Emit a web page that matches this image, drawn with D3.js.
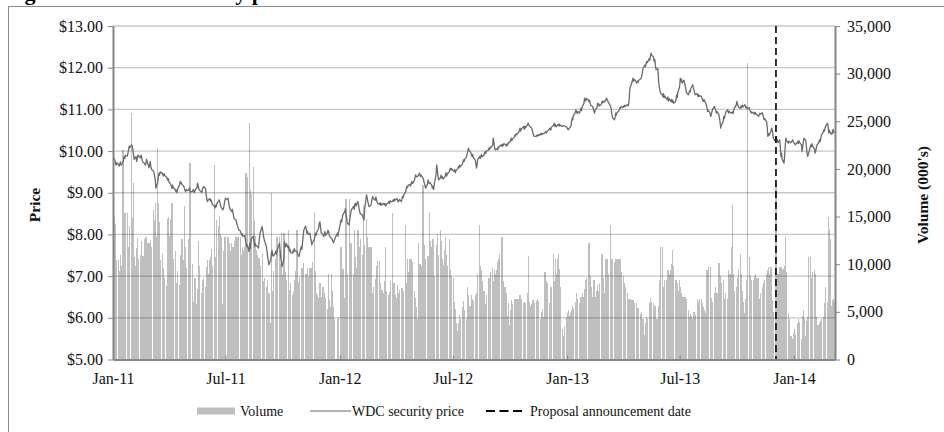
<!DOCTYPE html>
<html><head><meta charset="utf-8">
<script src="https://cdn.jsdelivr.net/npm/d3@7"></script>
<style>
html,body{margin:0;padding:0;background:#fff;}
svg{display:block;font-family:"Liberation Serif","Times New Roman",serif;}
</style></head><body>
<svg id="chart" width="944" height="432"></svg>
<script>
// ---------------- DATA ----------------
const priceTicks = [5, 6, 7, 8, 9, 10, 11, 12, 13];
const volumeTicks = [0, 5000, 10000, 15000, 20000, 25000, 30000, 35000];
const xTickDates = ["2011-01-01", "2011-07-01", "2012-01-01", "2012-07-01", "2013-01-01", "2013-07-01", "2014-01-01"];
const xTickLabels = ["Jan-11", "Jul-11", "Jan-12", "Jul-12", "Jan-13", "Jul-13", "Jan-14"];
const announcementDate = "2013-12-03";
const legendLabels = ["Volume", "WDC security price", "Proposal announcement date"];
const titleText = "Figure 4.1: WDC security price and volume";

// Each row = one trading week, Monday..Friday (null = market holiday)
const weekStart2011 = "2011-01-03";
const price2011 = [
[9.83,9.78,9.70,9.66,9.72],[9.68,9.64,9.70,9.74,9.66],[9.72,9.80,9.87,9.82,9.90],[9.88,9.95,10.02,10.12,10.08],
[10.15,10.12,10.05,9.92,9.80],[9.87,9.75,9.82,9.90,9.88],[9.84,9.90,9.86,9.78,9.74],[9.70,9.66,9.72,9.80,9.75],
[9.60,9.68,9.75,9.62,9.56],[9.52,9.48,9.40,9.32,9.11],[9.25,9.38,9.47,9.42,9.50],[9.47,9.44,9.40,9.46,9.42],
[9.38,9.35,9.30,9.34,9.26],[9.20,9.15,9.10,9.18,9.12],[9.08,9.03,9.06,9.00,9.10],[9.18,9.27,9.22,9.24,9.20],
[9.15,9.10,9.05,9.03,9.08],[9.05,9.07,9.12,9.04,9.02],[9.03,9.08,9.05,9.00,9.06],[9.12,9.23,9.18,9.10,9.06],
[9.03,9.00,9.08,9.12,9.15],[9.10,8.95,8.85,8.79,8.82],[8.86,8.80,8.83,8.76,8.72],[8.68,8.63,8.70,8.66,8.74],
[8.80,8.83,8.78,8.70,8.65],[8.59,8.64,8.72,8.80,8.87],[8.84,8.87,8.78,8.70,8.62],[8.55,8.60,8.52,8.45,8.38],
[8.35,8.28,8.22,8.19,8.12],[8.08,8.03,7.98,8.02,7.95],[7.97,7.88,7.80,7.71,7.75],[7.59,7.78,7.66,7.85,7.91],
[7.95,7.84,7.71,7.78,7.74],[7.70,7.67,7.82,7.95,8.05],[8.19,8.10,7.98,7.90,7.84],[7.70,7.58,7.45,7.36,7.27],
[7.40,7.55,7.62,7.50,7.48],[7.55,7.60,7.52,7.58,7.66],[7.79,7.62,7.45,7.32,7.23],[7.40,7.83,7.75,7.70,7.78],
[7.67,7.72,7.60,7.64,7.56],[7.55,7.62,7.58,7.66,7.60],[7.60,7.54,7.50,7.47,7.52],[7.71,7.64,7.80,7.95,8.10],
[8.20,8.12,8.03,8.08,8.00],[8.03,7.92,7.85,7.75,7.80],[7.88,7.95,8.03,7.98,8.06],[8.15,8.27,8.30,8.18,8.05],
[7.99,7.95,8.02,8.07,7.98],[8.04,8.10,8.06,7.99,7.95],[7.90,7.87,7.82,7.80,7.86],[null,null,8.03,7.96,8.05]
];
const volume2011 = [
[15000,14200,11400,10400,9300],[10400,9300,8600,11000,9800],[22000,12000,10500,15400,11200],[15400,11800,10200,12500,14000],
[25900,14800,12000,18500,10800],[9800,11700,12800,9000,10500],[11000,8800,12400,9600,10900],[12600,9700,12900,11800,12200],
[12200,11900,12500,11800,11000],[15700,14600,12500,16400,12900],[22200,16400,14400,11300,10400],[11100,10000,9600,8600,7600],
[7700,8600,14700,15000,13000],[14700,15000,16400,11200,10500],[11400,7000,6700,8000,9300],[7800,10000,11000,10300,12600],
[10400,16100,11800,10300,9600],[11400,12600,10200,20600,11000],[10000,6000,5800,6500,8600],[5800,7400,8600,12400,9800],
[5500,7000,8300,7600,8600],[7600,8300,9700,10400,9000],[10400,10800,11600,11000,9800],[20400,10800,10400,10400,14600],
[14000,15100,13200,12000,12900],[5800,11400,12900,12900,12500],[12900,12900,11800,12200,11400],[12200,11400,11800,11600,12400],
[12900,12600,12400,12900,12600],[12900,6500,11000,11800,11400],[11800,10800,19600,18800,19200],[24800,19000,17800,17400,16500],
[20200,14500,12600,13000,11500],[11000,8600,10600,5900,9800],[11100,9200,8200,7600,8600],[7600,6800,8300,5900,7000],
[3800,17500,4200,7200,9300],[10500,9000,11400,12900,9600],[12900,10000,8600,13300,9000],[13300,10000,9200,7600,8300],
[13600,6500,7300,7000,8000],[6800,7100,6700,8300,9300],[13600,9100,8100,7600,8700],[8900,9600,8700,10100,9000],
[9000,8600,9000,9600,8700],[9600,9000,8800,9600,10200],[15400,9300,6500,7000,6800],[6500,7600,8000,7000,6600],
[7600,6500,7000,5900,6500],[4600,5300,9000,6200,5500],[9000,7200,5500,4700,4300],[null,null,4000,4200,4500]
];

const weekStart2012 = "2012-01-02";
const price2012 = [
[null,8.35,8.30,8.40,8.47],[8.55,8.62,8.48,8.40,8.27],[8.23,8.35,8.45,8.55,8.60],[8.67,8.60,8.70,8.75,8.68],
[8.79,8.72,8.62,8.55,8.50],[8.47,8.43,8.38,8.35,8.60],[8.95,8.88,8.80,8.72,8.67],[8.70,8.78,8.85,8.91,8.86],
[8.82,8.90,8.84,8.78,8.75],[8.72,8.76,8.70,8.74,8.71],[8.75,8.71,8.74,8.68,8.72],[8.76,8.79,8.74,8.81,8.78],
[8.80,8.83,8.79,8.85,8.82],[8.86,8.82,8.78,8.80,8.84],[8.79,8.84,8.91,8.88,8.95],[9.02,9.10,9.15,9.12,9.18],
[9.20,9.16,9.23,9.27,9.22],[9.30,9.36,9.43,9.40,9.38],[9.42,9.47,9.44,9.39,9.42],[9.35,9.30,9.23,9.18,9.11],
[9.20,9.31,9.26,9.22,9.25],[9.18,9.11,9.15,9.08,9.20],[9.45,9.67,9.55,9.40,9.31],[9.36,9.42,9.35,9.38,9.33],
[9.38,9.43,9.48,9.40,9.45],[9.50,9.55,9.59,9.54,9.58],[9.52,9.51,9.56,9.48,9.53],[9.58,9.63,9.60,9.66,9.62],
[9.68,9.72,9.79,9.75,9.80],[9.86,9.93,10.00,10.07,10.02],[9.96,9.90,9.87,9.92,9.84],[9.78,9.70,9.59,9.68,9.80],
[9.87,9.82,9.88,9.92,9.86],[9.90,9.96,9.99,9.94,10.00],[10.02,10.07,10.04,10.10,10.08],[10.14,10.31,10.22,10.10,10.03],
[10.06,10.03,10.10,10.08,10.12],[10.15,10.10,10.16,10.13,10.18],[10.15,10.12,10.17,10.14,10.19],[10.22,10.27,10.31,10.25,10.29],
[10.34,10.39,10.36,10.42,10.40],[10.45,10.50,10.55,10.48,10.53],[10.57,10.59,10.52,10.60,10.56],[10.62,10.67,10.64,10.60,10.59],
[10.55,10.48,10.42,10.38,10.35],[10.35,10.38,10.36,10.40,10.37],[10.40,10.43,10.39,10.42,10.41],[10.44,10.47,10.43,10.46,10.48],
[10.52,10.55,10.50,10.53,10.58],[10.62,10.67,10.60,10.64,10.58],[10.63,10.61,10.65,10.60,10.62],[10.59,10.61,null,null,10.60]
];
const volume2012 = [
[null,11800,6500,8800,9500],[6500,8000,16800,10300,9000],[16800,9800,11000,12200,9000],[9000,11200,13600,10800,9600],
[13600,11500,10800,11800,12600],[10400,11000,16200,12000,10500],[14700,12900,11200,10300,11800],[11800,8500,6200,7000,7600],
[6200,8500,9800,7800,10300],[10300,8000,7800,6800,7300],[7000,8200,11800,6800,7200],[6400,6800,7100,8200,6800],
[15400,7500,8000,7200,6800],[6500,7800,6800,7000,7300],[7000,7500,6500,6800,7200],[14100,8000,7200,10500,9200],
[10500,9800,10500,8800,10200],[7200,6500,4000,5500,4200],[12200,9500,10000,8800,9800],[18300,16800,12000,10500,9000],
[5200,10900,9800,15400,12400],[11800,10000,12600,5200,8800],[10000,12000,13200,11000,9500],[13600,12400,11000,10500,9900],
[11500,12900,11000,10200,9800],[12600,11000,9400,8800,7800],[8600,6000,4000,5300,3800],[3000,3800,4500,4700,4200],
[4700,5500,6100,5200,4800],[4200,5500,7600,6800,5600],[5600,6800,5800,6400,6100],[6100,6800,7000,8000,9000],
[14100,9800,8600,9400,8200],[7200,6500,5800,4200,6800],[8000,8600,7600,8200,9200],[9600,8200,7600,9400,9000],
[9400,10200,10500,9800,11100],[12000,12900,10000,8200,7600],[7600,7000,4600,3800,5900],[3600,5200,6200,5600,5800],
[6100,6400,5800,6000,6400],[6400,6000,6800,6200,6400],[5900,5500,6000,5200,5900],[7000,10900,7000,6000,5600],
[5800,5900,6200,5500,5900],[6100,6000,6400,6100,5800],[4200,5000,4800,5300,4500],[9200,7000,8200,7500,8000],
[4200,5900,6800,7600,7000],[11100,7000,8200,10500,9000],[10500,11100,9500,8800,7600],[3200,2500,null,null,3500]
];

const weekStart2013 = "2012-12-31";
const price2013 = [
[10.58,null,10.52,10.51,10.54],[10.60,10.72,10.79,10.75,10.85],[10.92,10.99,10.94,10.90,10.95],[10.91,10.98,11.03,10.97,11.05],
[11.15,11.27,11.24,11.20,11.26],[11.23,11.18,11.22,11.15,11.10],[11.07,11.02,10.95,10.91,10.98],[11.05,11.15,11.10,11.13,11.08],
[11.12,11.19,11.16,11.20,11.17],[11.22,11.27,11.24,11.21,11.18],[11.10,11.07,10.98,10.88,10.80],[10.75,10.80,10.91,10.86,10.92],
[10.96,11.00,11.04,11.02,11.07],[11.05,11.07,11.10,11.06,11.09],[11.11,11.08,11.13,11.30,11.52],[11.63,11.70,11.75,11.68,11.72],
[11.66,11.63,11.68,11.65,11.70],[11.73,11.75,11.80,11.90,11.98],[12.06,12.02,12.10,12.15,12.12],[12.22,12.18,12.28,12.35,12.30],
[12.25,12.15,12.20,12.05,11.95],[11.98,11.70,11.55,11.48,11.40],[11.35,11.30,11.38,11.28,11.32],[11.25,11.23,11.30,11.20,11.26],
[11.19,11.24,11.17,11.22,11.15],[11.18,11.22,11.35,11.28,11.40],[11.55,11.75,11.68,11.72,11.63],[11.70,11.63,11.55,11.48,11.40],
[11.35,11.39,11.45,11.42,11.50],[11.59,11.52,11.46,11.40,11.35],[11.38,11.32,11.36,11.30,11.33],[11.31,11.27,11.22,11.19,11.24],
[11.15,11.10,11.02,10.95,10.98],[10.90,10.83,10.88,10.95,11.00],[11.07,11.02,10.98,10.91,10.95],[10.88,10.80,10.70,10.55,10.62],
[10.70,10.83,10.78,10.86,10.92],[10.99,10.95,10.91,10.96,10.93],[10.91,10.94,10.90,10.98,11.03],[11.10,11.19,11.14,11.08,11.05],
[11.03,11.08,11.04,11.10,11.06],[11.11,11.07,11.03,11.06,11.02],[11.04,10.98,10.95,10.91,10.94],[10.90,10.93,10.88,10.92,10.89],
[10.85,10.83,10.87,10.91,10.88],[10.92,10.88,10.80,10.75,10.78],[10.70,10.55,10.35,10.42,10.38],[10.48,10.55,10.50,10.40,10.30],
[10.23,10.35,10.30,10.27,10.20],[10.27,10.10,9.87,9.95,9.80],[9.71,9.90,10.15,10.31,10.25],[10.19,10.24,null,null,10.20]
];
const volume2013 = [
[4500,null,4900,5200,4600],[4900,5200,5600,5000,5400],[5200,6000,7000,6400,5900],[5900,6400,6600,6200,7000],
[6600,7400,8300,7800,8600],[8300,12200,9500,8800,7600],[6600,8000,8300,7400,6600],[7200,7800,6600,7200,8000],
[8800,11100,9000,8600,7000],[10500,9800,10500,9400,9000],[9400,14100,9600,10500,9400],[9400,10200,10500,9800,10500],
[10500,10000,10500,9800,9200],[8300,8800,8000,7600,7000],[7000,6400,6000,6400,6300],[6200,6000,5800,6200,5900],
[5600,5900,5200,5400,5200],[4800,4500,5000,3800,4200],[2600,3800,4200,4500,4200],[4800,5900,6500,5900,6000],
[5900,5200,5600,4500,4200],[4200,5600,6500,8300,11800],[11800,6600,7600,8300,8000],[8300,9000,9400,8600,9000],
[9400,10000,11500,9800,9000],[7600,8300,7800,8000,7200],[8300,7600,7000,6400,6600],[6600,6200,6600,6400,6000],
[5200,4500,4200,4800,4600],[4200,4800,5000,4500,4700],[5900,6400,5200,6000,6400],[6400,5900,4900,5500,5200],
[4900,7600,9400,8000,9700],[9700,8000,6500,4900,6000],[7000,7600,7000,6500,7000],[10100,9000,8800,8300,8000],
[8300,7600,5600,6400,7000],[6400,7600,9400,8600,9000],[11800,16200,9000,8000,7200],[6600,7600,8600,9400,8300],
[11100,9000,8300,7200,6000],[4900,6400,7600,8300,31100],[10800,8800,8000,8300,8000],[8300,8000,8800,9000,8600],
[8600,6000,5200,6400,7000],[7600,7000,8000,7600,8300],[9000,8600,9400,9700,9000],[9700,8000,6200,4200,5000],
[6000,18500,9600,8800,9000],[9700,9400,9700,9600,9500],[9500,9800,12900,9200,7000],[4900,4200,null,null,2500]
];

const weekStart2014 = "2013-12-30";
const price2014 = [
[10.27,10.22,null,10.18,10.15],[10.20,10.23,10.18,10.25,10.21],[10.15,9.99,10.10,10.22,10.31],[10.25,10.10,9.95,9.87,9.92],
[null,10.15,10.10,10.18,10.12],[10.05,9.95,10.00,10.08,10.15],[10.20,10.27,10.22,10.30,10.38],[10.45,10.51,10.48,10.55,10.60],
[10.67,10.58,10.43,10.50,10.45],[10.40,10.47,10.52,10.44,10.47]
];
const volume2014 = [
[2200,2800,null,3200,2600],[3500,3800,4200,3400,3900],[2200,3000,4600,5200,4200],[2500,3300,4000,4500,10800],
[null,10800,7200,8600,9200],[9400,8600,9000,4500,3600],[3600,3800,4000,3600,4200],[4000,4500,5900,6200,7600],
[6000,8300,15000,13600,12600],[5600,6200,5800,6400,6000]
];

// ---------------- BUILD ----------------
const parse = d3.utcParse("%Y-%m-%d");
function expand(start, prices, vols) {
  const s = parse(start), out = [];
  prices.forEach((wk, i) => wk.forEach((p, d) => {
    out.push({date: d3.utcDay.offset(s, i * 7 + d), price: p, volume: vols[i][d]});
  }));
  return out;
}
const days = [].concat(
  expand(weekStart2011, price2011, volume2011),
  expand(weekStart2012, price2012, volume2012),
  expand(weekStart2013, price2013, volume2013),
  expand(weekStart2014, price2014, volume2014)
);

const svg = d3.select("#chart");
const L = 113, R = 835, T = 26, B = 359.5;

const x = d3.scaleUtc().domain([parse("2011-01-01"), parse("2014-03-08")]).range([L, R]);
const yP = d3.scaleLinear().domain([5, 13]).range([B, T]);
const yV = d3.scaleLinear().domain([0, 35000]).range([B, T]);

// outer frame & title (cropped at the top, as in the source figure)
svg.append("rect").attr("x", 8.5).attr("y", 6.5).attr("width", 960).attr("height", 460)
  .attr("fill", "none").attr("stroke", "#8c8c8c").attr("stroke-width", 1);
svg.append("text").attr("x", 5).attr("y", 0).attr("font-size", 22).attr("font-weight", "bold")
  .attr("fill", "#000").text(titleText);

// volume bars
svg.append("g").selectAll("rect")
  .data(days.filter(d => d.volume != null))
  .join("rect")
  .attr("x", d => x(d.date) - 0.55)
  .attr("width", 1.25)
  .attr("y", d => yV(d.volume))
  .attr("height", d => B - yV(d.volume))
  .attr("fill", "#bfbfbf")
  .attr("shape-rendering", "crispEdges");

// gridlines
svg.append("g").selectAll("line")
  .data(priceTicks.filter(t => t !== 5))
  .join("line")
  .attr("x1", L).attr("x2", R)
  .attr("y1", d => yP(d)).attr("y2", d => yP(d))
  .attr("stroke", "rgba(0,0,0,0.22)").attr("stroke-width", 1.3);

// price line
const line = d3.line().x(d => x(d.date)).y(d => yP(d.price));
svg.append("path")
  .datum(days.filter(d => d.price != null))
  .attr("d", line)
  .attr("fill", "none").attr("stroke", "#6b6b6b").attr("stroke-width", 1.3)
  .attr("stroke-linejoin", "round");

// announcement line
const ax = x(parse(announcementDate));
svg.append("line").attr("x1", ax).attr("x2", ax).attr("y1", T).attr("y2", B)
  .attr("stroke", "#000").attr("stroke-width", 1.6).attr("stroke-dasharray", "7,4");

// axes
function styleAxis(g) {
  g.selectAll("path.domain").attr("stroke", "#858585").attr("stroke-width", 2);
  g.selectAll(".tick line").attr("stroke", "#858585").attr("stroke-width", 1);
  g.selectAll(".tick text").attr("fill", "#111").attr("font-size", 16)
    .attr("font-family", "'Liberation Serif','Times New Roman',serif");
}
svg.append("g").attr("transform", `translate(${L},0)`)
  .call(d3.axisLeft(yP).tickValues(priceTicks).tickFormat(d => "$" + d.toFixed(2))
    .tickSize(5).tickSizeOuter(0).tickPadding(5))
  .call(styleAxis);
svg.append("g").attr("transform", `translate(${R},0)`)
  .call(d3.axisRight(yV).tickValues(volumeTicks).tickFormat(d3.format(","))
    .tickSize(5).tickSizeOuter(0).tickPadding(7))
  .call(styleAxis);
svg.append("g").attr("transform", `translate(0,${B})`)
  .call(d3.axisBottom(x).tickValues(xTickDates.map(parse)).tickFormat((d, i) => xTickLabels[i])
    .tickSize(-4).tickSizeOuter(0).tickPadding(13))
  .call(styleAxis);

// axis titles
svg.append("text").attr("transform", "translate(35,205) rotate(-90)")
  .attr("text-anchor", "middle").attr("dy", "0.35em")
  .attr("font-size", 15.5).attr("font-weight", "bold").attr("fill", "#111").text("Price");
svg.append("text").attr("transform", "translate(923,195) rotate(-90)")
  .attr("text-anchor", "middle").attr("dy", "0.35em")
  .attr("font-size", 15.5).attr("font-weight", "bold").attr("fill", "#111").text("Volume (000's)");

// legend
const lg = svg.append("g").attr("font-size", 14).attr("fill", "#111");
const ly = 411;
lg.append("rect").attr("x", 197).attr("y", ly - 3.5).attr("width", 38).attr("height", 7).attr("fill", "#bfbfbf");
lg.append("text").attr("x", 240).attr("y", ly).attr("dy", "0.33em").text(legendLabels[0]);
lg.append("line").attr("x1", 310).attr("x2", 351).attr("y1", ly).attr("y2", ly)
  .attr("stroke", "#6b6b6b").attr("stroke-width", 1.2);
lg.append("text").attr("x", 352).attr("y", ly).attr("dy", "0.33em").text(legendLabels[1]);
lg.append("line").attr("x1", 486).attr("x2", 522).attr("y1", ly).attr("y2", ly)
  .attr("stroke", "#000").attr("stroke-width", 1.8).attr("stroke-dasharray", "9,4.5");
lg.append("text").attr("x", 530).attr("y", ly).attr("dy", "0.33em").text(legendLabels[2]);
</script>
</body></html>
